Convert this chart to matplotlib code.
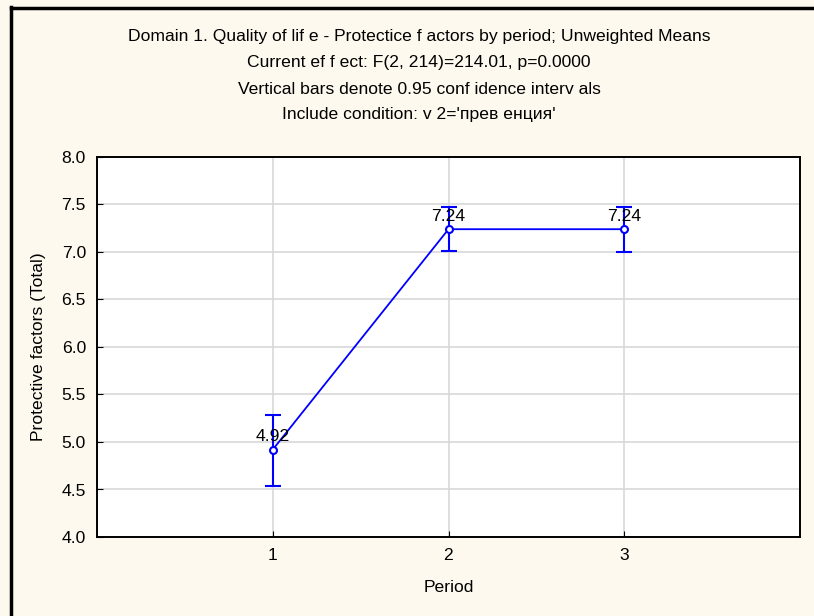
import matplotlib
matplotlib.use("Agg")
import matplotlib.pyplot as plt
from matplotlib.lines import Line2D

periods = [1, 2, 3]
means = [4.92, 7.24, 7.24]
ci_low = [4.54, 7.01, 7.00]
ci_high = [5.28, 7.47, 7.47]
labels = ["4.92", "7.24", "7.24"]
title_lines = [
    "Domain 1. Quality of lif e - Protectice f actors by period; Unweighted Means",
    "Current ef f ect: F(2, 214)=214.01, p=0.0000",
    "Vertical bars denote 0.95 conf idence interv als",
    "Include condition: v 2='прев енция'",
]

FS = 12.6
plt.rcParams['font.family'] = ['Liberation Sans', 'DejaVu Sans']
bg = '#fef9ee'
fig = plt.figure(figsize=(8.14, 6.16), dpi=100, facecolor=bg)
W, H = 814, 616
ax = fig.add_axes([97 / W, 1 - 537 / H, (800 - 97) / W, (537 - 157) / H])
ax.set_facecolor('white')

yerr = [[m - l for m, l in zip(means, ci_low)], [h - m for m, h in zip(means, ci_high)]]
ax.errorbar(periods, means, yerr=yerr, color='#0000ff', lw=1.3, marker='o', ms=5,
            mfc='white', mec='#0000ff', mew=1.5, capsize=6, capthick=1.5, elinewidth=1.5, zorder=3)
for x, m, t in zip(periods, means, labels):
    ax.annotate(t, (x, m), xytext=(0, 4), textcoords='offset points', ha='center', va='bottom',
                fontsize=FS, color='black', zorder=4)

ax.set_xlim(0, 4)
ax.set_ylim(4.0, 8.0)
ax.set_xticks(periods)
yt = [4.0, 4.5, 5.0, 5.5, 6.0, 6.5, 7.0, 7.5, 8.0]
ax.set_yticks(yt)
ax.set_yticklabels([f"{v:.1f}" for v in yt])
ax.grid(True, color='#d8d8d8', lw=1.2)
ax.set_axisbelow(True)
ax.tick_params(direction='in', length=4, labelsize=FS, pad=8, color='black')
for s in ax.spines.values():
    s.set_linewidth(1.4)
ax.set_xlabel("Period", fontsize=FS, labelpad=12)
ax.set_ylabel("Protective factors (Total)", fontsize=FS, labelpad=11)

ys = [36, 62, 89, 115]
for y, t in zip(ys, title_lines):
    fig.text(419 / W, 1 - y / H, t, ha='center', va='center', fontsize=FS)

fig.add_artist(Line2D([11 / W, 11 / W], [0, 1 - 7 / H], transform=fig.transFigure, color='black', lw=2.5))
fig.add_artist(Line2D([11 / W, 1], [1 - 8 / H, 1 - 8 / H], transform=fig.transFigure, color='black', lw=2.5))

fig.savefig("out.png", dpi=100, facecolor=bg)
